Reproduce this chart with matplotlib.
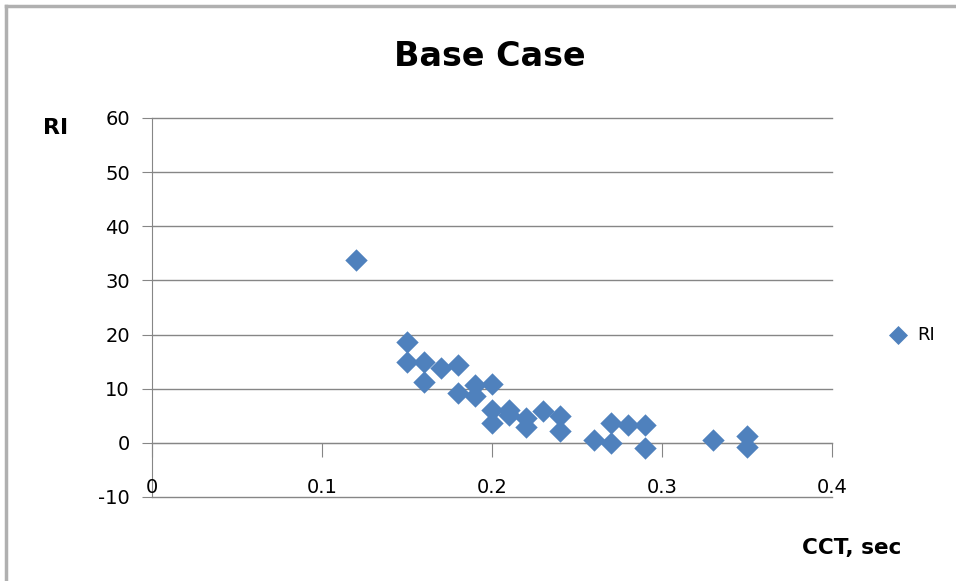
import matplotlib.pyplot as plt
from matplotlib.lines import Line2D

# CCT (sec) and RI values for the base case
cct = [0.12, 0.15, 0.15, 0.16, 0.16, 0.17, 0.18, 0.18, 0.19, 0.19,
       0.20, 0.20, 0.20, 0.21, 0.21, 0.22, 0.22, 0.23, 0.24, 0.24,
       0.26, 0.27, 0.27, 0.28, 0.29, 0.29, 0.33, 0.35, 0.35]
ri = [33.8, 18.7, 15.0, 15.0, 11.3, 13.8, 14.4, 9.2, 10.7, 8.7,
      10.9, 6.1, 3.7, 6.1, 5.2, 4.6, 3.0, 5.8, 4.9, 2.1,
      0.5, 3.6, 0.0, 3.3, 3.3, -1.0, 0.5, 1.2, -0.7]

x_ticks = [0, 0.1, 0.2, 0.3, 0.4]
x_labels = ['0', '0.1', '0.2', '0.3', '0.4']
y_ticks = [-10, 0, 10, 20, 30, 40, 50, 60]

plt.rcParams['font.family'] = ['DejaVu Sans']
plt.rcParams['axes.unicode_minus'] = False
grey = '#868686'
blue = '#4F81BD'

fig = plt.figure(figsize=(9.56, 5.81), dpi=100)
ax = fig.add_axes([0.159, 0.1446, 0.711, 0.6524])

ax.scatter(cct, ri, marker='D', s=130, color=blue, linewidths=0, zorder=3, label='RI')

ax.set_xlim(0, 0.4)
ax.set_ylim(-10, 60)
ax.set_yticks(y_ticks)
ax.set_axisbelow(True)
# horizontal gridlines, unclipped so the bottom one at -10 shows fully
for yv in y_ticks:
    ax.axhline(yv, color=grey, linewidth=1, clip_on=False, zorder=0)

for side in ['top', 'right']:
    ax.spines[side].set_visible(False)
ax.spines['left'].set_color(grey)
ax.spines['bottom'].set_color(grey)
ax.spines['bottom'].set_position(('data', 0))

ax.tick_params(axis='y', direction='out', length=7, color=grey, labelsize=14, pad=9)
ax.tick_params(axis='x', direction='out', length=10, color=grey, labelbottom=False)
ax.set_xticks(x_ticks)

# x tick labels sit just above the bottom gridline
for xv, lab in zip(x_ticks, x_labels):
    ax.text(xv, -9.25, lab, ha='center', va='baseline', fontsize=14)

fig.text(0.512, 0.902, 'Base Case', ha='center', va='center', fontsize=24, fontweight='bold')
fig.text(0.058, 0.78, 'RI', ha='center', va='center', fontsize=16, fontweight='bold')
fig.text(0.891, 0.057, 'CCT, sec', ha='center', va='center', fontsize=15.5, fontweight='bold')

ax.legend(loc='center left', bbox_to_anchor=(0.903, 0.373, 0.1, 0.1), bbox_transform=fig.transFigure,
          frameon=False, fontsize=13, handletextpad=0.1, markerscale=0.85)

# chart frame
fig.add_artist(Line2D([0.006, 0.006], [0, 0.99], color='#b0b0b0', linewidth=2.5))
fig.add_artist(Line2D([0.006, 1.0], [0.99, 0.99], color='#b0b0b0', linewidth=2.5))

fig.savefig('out.png', dpi=100)
